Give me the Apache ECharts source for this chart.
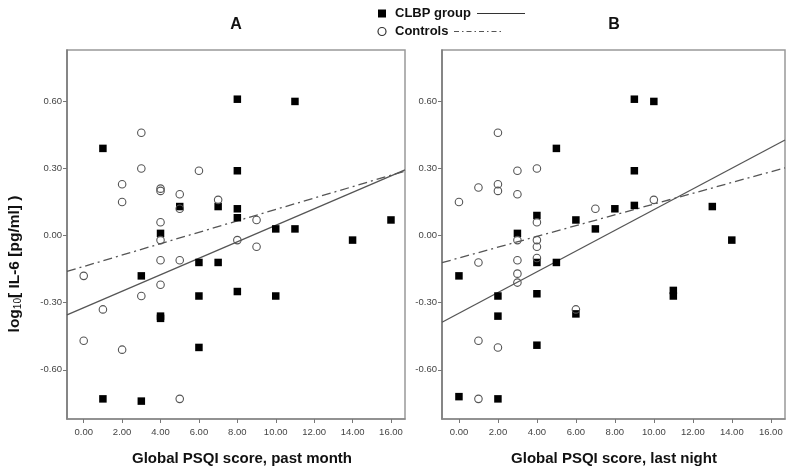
<!DOCTYPE html>
<html>
<head>
<meta charset="utf-8">
<script src="https://cdn.jsdelivr.net/npm/echarts@6/dist/echarts.min.js"></script>
<style>html,body{margin:0;padding:0;background:#fff}#c{width:800px;height:473px}</style>
</head>
<body>
<div id="c"></div>
<script>
// ---- data ----
const xTicks = [0, 2, 4, 6, 8, 10, 12, 14, 16];
const yTicks = [-0.6, -0.3, 0, 0.3, 0.6];

// Panel A: Global PSQI score, past month
const clbpA_psqi = [1, 8, 8, 5, 7, 8, 8, 4, 11, 10, 11, 16, 14, 6, 7, 3, 6, 8, 4, 4, 6, 1, 3, 10];
const clbpA_il6  = [0.39, 0.61, 0.29, 0.13, 0.13, 0.12, 0.08, 0.01, 0.60, 0.03, 0.03, 0.07, -0.02, -0.12, -0.12, -0.18, -0.27, -0.25, -0.36, -0.37, -0.50, -0.73, -0.74, -0.27];
const ctrlA_psqi = [3, 3, 6, 2, 2, 4, 4, 5, 5, 7, 4, 4, 8, 9, 0, 4, 5, 4, 3, 1, 0, 2, 5, 9];
const ctrlA_il6  = [0.46, 0.30, 0.29, 0.23, 0.15, 0.21, 0.20, 0.185, 0.12, 0.16, 0.06, -0.02, -0.02, 0.07, -0.18, -0.11, -0.11, -0.22, -0.27, -0.33, -0.47, -0.51, -0.73, -0.05];

// Panel B: Global PSQI score, last night
const clbpB_psqi = [5, 4, 6, 7, 3, 9, 10, 9, 9, 8, 13, 14, 4, 5, 0, 2, 4, 2, 6, 4, 0, 2, 11, 11];
const clbpB_il6  = [0.39, 0.09, 0.07, 0.03, 0.01, 0.61, 0.60, 0.29, 0.135, 0.12, 0.13, -0.02, -0.12, -0.12, -0.18, -0.27, -0.26, -0.36, -0.35, -0.49, -0.72, -0.73, -0.245, -0.27];
const ctrlB_psqi = [2, 4, 3, 2, 1, 2, 3, 0, 7, 4, 3, 4, 10, 4, 4, 1, 3, 3, 3, 6, 1, 2, 1];
const ctrlB_il6  = [0.46, 0.30, 0.29, 0.23, 0.215, 0.20, 0.185, 0.15, 0.12, 0.06, -0.02, -0.02, 0.16, -0.05, -0.10, -0.12, -0.11, -0.17, -0.21, -0.33, -0.47, -0.50, -0.73];

// Fit lines: [intercept, slope]
const fitClbpA = [-0.322, 0.0368];
const fitCtrlA = [-0.138, 0.0255];
const fitClbpB = [-0.347, 0.0463];
const fitCtrlB = [-0.100, 0.0241];

// ---- helpers ----
const X_MIN = -0.87, X_MAX = 16.73, Y_MIN = -0.82, Y_MAX = 0.83;
function pairs(xs, ys) { return xs.map((x, i) => [x, ys[i]]); }
function lineData(f) { return [[X_MIN, f[0] + f[1] * X_MIN], [X_MAX, f[0] + f[1] * X_MAX]]; }

const FONT = 'Liberation Sans, Arial, sans-serif';
const dashDot = [9, 4, 2, 4];

function xAxis(gi) {
  return {
    gridIndex: gi, type: 'value', min: X_MIN, max: X_MAX,
    splitLine: { show: false },
    axisLine: { show: true, onZero: false, lineStyle: { color: '#888', width: 1.5 } },
    axisTick: { show: true, customValues: xTicks, length: 4, lineStyle: { color: '#777' } },
    axisLabel: { show: true, customValues: xTicks, formatter: v => v.toFixed(2), color: '#444', fontSize: 9.5, fontFamily: FONT, margin: 8 }
  };
}
function yAxis(gi) {
  return {
    gridIndex: gi, type: 'value', min: Y_MIN, max: Y_MAX,
    splitLine: { show: false },
    axisLine: { show: true, onZero: false, lineStyle: { color: '#777', width: 1.5 } },
    axisTick: { show: true, customValues: yTicks, length: 4, lineStyle: { color: '#777' } },
    axisLabel: { show: true, customValues: yTicks, formatter: v => v.toFixed(2), color: '#444', fontSize: 9.5, fontFamily: FONT, margin: 5 }
  };
}
function squares(gi, xs, ys) {
  return { type: 'scatter', xAxisIndex: gi, yAxisIndex: gi, symbol: 'rect', symbolSize: 7.5,
    itemStyle: { color: '#000', opacity: 1 }, data: pairs(xs, ys), z: 3 };
}
function circles(gi, xs, ys) {
  return { type: 'scatter', xAxisIndex: gi, yAxisIndex: gi, symbol: 'circle', symbolSize: 7.5,
    itemStyle: { color: 'rgba(255,255,255,0)', borderColor: '#555', borderWidth: 1.1, opacity: 1 }, data: pairs(xs, ys), z: 4 };
}
function fit(gi, f, dashed) {
  return { type: 'line', xAxisIndex: gi, yAxisIndex: gi, data: lineData(f), symbol: 'none',
    lineStyle: { color: '#555', width: 1.3, type: dashed ? dashDot : 'solid' }, z: 2, silent: true };
}

const chart = echarts.init(document.getElementById('c'), null, { renderer: 'canvas' });
chart.setOption({
  animation: false,
  backgroundColor: '#fff',
  grid: [
    { left: 67, right: 395, top: 50, bottom: 54, show: true, borderColor: '#999', borderWidth: 1.5 },
    { left: 442, right: 15, top: 50, bottom: 54, show: true, borderColor: '#999', borderWidth: 1.5 }
  ],
  xAxis: [xAxis(0), xAxis(1)],
  yAxis: [yAxis(0), yAxis(1)],
  series: [
    fit(0, fitClbpA, false),
    fit(0, fitCtrlA, true),
    squares(0, clbpA_psqi, clbpA_il6),
    circles(0, ctrlA_psqi, ctrlA_il6),
    fit(1, fitClbpB, false),
    fit(1, fitCtrlB, true),
    squares(1, clbpB_psqi, clbpB_il6),
    circles(1, ctrlB_psqi, ctrlB_il6)
  ],
  graphic: [
    { type: 'text', x: 236, y: 25, style: { text: 'A', font: 'bold 16px ' + FONT, fill: '#111', textAlign: 'center', textVerticalAlign: 'middle' } },
    { type: 'text', x: 614, y: 25, style: { text: 'B', font: 'bold 16px ' + FONT, fill: '#111', textAlign: 'center', textVerticalAlign: 'middle' } },
    // legend
    { type: 'rect', shape: { x: 378, y: 9.5, width: 8, height: 8 }, style: { fill: '#000' } },
    { type: 'text', x: 395, y: 13.5, style: { text: 'CLBP group', font: 'bold 13px ' + FONT, fill: '#111', textVerticalAlign: 'middle' } },
    { type: 'line', shape: { x1: 477, y1: 13.5, x2: 525, y2: 13.5 }, style: { stroke: '#333', lineWidth: 1.2 } },
    { type: 'circle', shape: { cx: 382, cy: 31.5, r: 4 }, style: { fill: '#fff', stroke: '#333', lineWidth: 1.2 } },
    { type: 'text', x: 395, y: 31.5, style: { text: 'Controls', font: 'bold 13px ' + FONT, fill: '#111', textVerticalAlign: 'middle' } },
    { type: 'line', shape: { x1: 454, y1: 31.5, x2: 502, y2: 31.5 }, style: { stroke: '#555', lineWidth: 1.1, lineDash: [5, 3, 1.5, 3] } },
    // axis titles
    { type: 'text', x: 242, y: 459, style: { text: 'Global PSQI score, past month', font: 'bold 15px ' + FONT, fill: '#111', textAlign: 'center', textVerticalAlign: 'middle' } },
    { type: 'text', x: 614, y: 459, style: { text: 'Global PSQI score, last night', font: 'bold 15px ' + FONT, fill: '#111', textAlign: 'center', textVerticalAlign: 'middle' } },
    { type: 'text', x: 15, y: 264, rotation: Math.PI / 2,
      style: { text: '{a|log}{s|10}{a|[ IL-6 [pg/ml] )}', textAlign: 'center', textVerticalAlign: 'middle',
        rich: { a: { font: 'bold 15.5px ' + FONT, fill: '#111' }, s: { font: '10px ' + FONT, fill: '#111', padding: [7, 0, 0, 0] } } } }
  ]
});
</script>
</body>
</html>
